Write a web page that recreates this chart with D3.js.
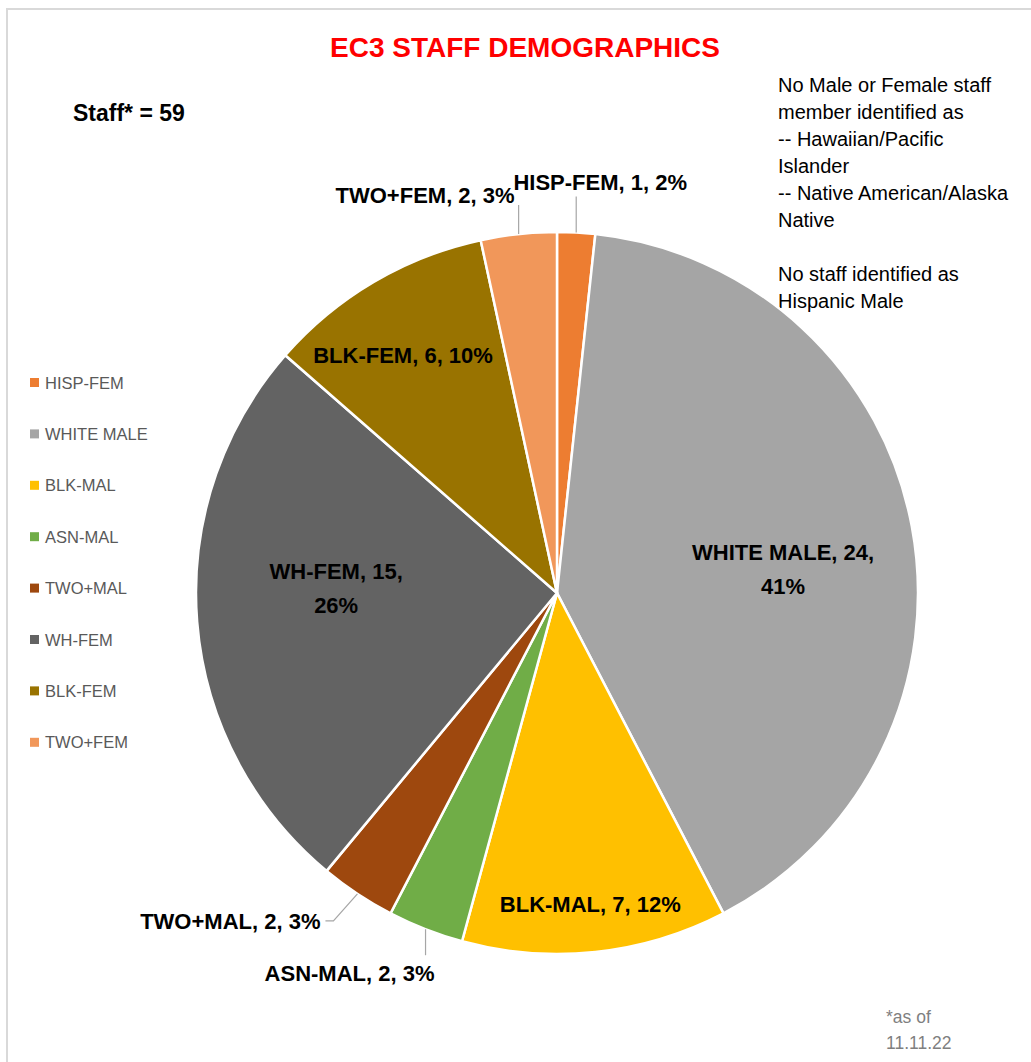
<!DOCTYPE html>
<html>
<head>
<meta charset="utf-8">
<script src="https://cdn.jsdelivr.net/npm/d3@7"></script>
<style>
  body { margin: 0; background: #fff; }
  text { font-family: "Liberation Sans", Arial, sans-serif; }
</style>
</head>
<body>
<svg id="chart"></svg>
<script>
// data
var categories = ['HISP-FEM', 'WHITE MALE', 'BLK-MAL', 'ASN-MAL', 'TWO+MAL', 'WH-FEM', 'BLK-FEM', 'TWO+FEM']
var counts = [1, 24, 7, 2, 2, 15, 6, 2]
var percents = ['2%', '41%', '12%', '3%', '3%', '26%', '10%', '3%']
var colors = ['#ED7D31', '#A5A5A5', '#FFC000', '#70AD47', '#9E480E', '#636363', '#997300', '#F1975A']

var title = 'EC3 STAFF DEMOGRAPHICS'
var staffNote = 'Staff* = 59'
var noteLines = ['No Male or Female staff', 'member identified as', '-- Hawaiian/Pacific', 'Islander',
	'-- Native American/Alaska', 'Native', '', 'No staff identified as', 'Hispanic Male']
var footLines = ['*as of', '11.11.22']

var width = 1031, height = 1062
var cx = 557, cy = 593, radius = 361

// label layout per slice (inside: fraction of radius + angle nudge; outside: leader line)
var labelLayout = [
	{out: true, lead: [[0, -36]], tx: 24, ty: -7, anchor: 'middle'},
	{out: false, rf: 0.63, da: 4.5, lines: 2},
	{out: false, rf: 0.867, da: 0, lines: 1},
	{out: true, lead: [[0, 26]], tx: -76, ty: 26, anchor: 'middle'},
	{out: true, lead: [[-24, 27], [-32, 27]], tx: -5, ty: 8, anchor: 'end'},
	{out: false, rf: 0.612, da: 6, lines: 2},
	{out: false, rf: 0.785, da: -2.4, lines: 1},
	{out: true, lead: [[0, -29]], tx: -4, ty: -2, anchor: 'end'}
]

var svg = d3.select('#chart')
	.attr('width', width)
	.attr('height', height)

svg.append('rect')
	.attr('x', 7).attr('y', 9)
	.attr('width', 1040).attr('height', 1080)
	.attr('fill', '#fff')
	.attr('stroke', '#d9d9d9')
	.attr('stroke-width', 2)

svg.append('text')
	.attr('x', 525).attr('y', 57)
	.attr('text-anchor', 'middle')
	.style('font-size', '28px').style('font-weight', 'bold')
	.attr('fill', '#ff0000')
	.text(title)

svg.append('text')
	.attr('x', 73).attr('y', 121)
	.style('font-size', '23px').style('font-weight', 'bold')
	.attr('fill', '#000')
	.text(staffNote)

svg.append('g').selectAll('text')
	.data(noteLines)
	.enter()
	.append('text')
		.attr('x', 778)
		.attr('y', (d, i) => 92 + i * 27)
		.style('font-size', '20px')
		.attr('fill', '#000')
		.text(d => d)

svg.append('g').selectAll('text')
	.data(footLines)
	.enter()
	.append('text')
		.attr('x', 886)
		.attr('y', (d, i) => 1023 + i * 26)
		.style('font-size', '17.5px')
		.attr('fill', '#7f7f7f')
		.text(d => d)

// pie
var data = categories.map((c, i) => ({name: c, value: counts[i], pct: percents[i], color: colors[i], lay: labelLayout[i]}))

var pie = d3.pie().value(d => d.value).sort(null)
var arcs = pie(data)
var arc = d3.arc().innerRadius(0).outerRadius(radius)

var g = svg.append('g').attr('transform', 'translate(' + cx + ',' + cy + ')')

g.selectAll('path')
	.data(arcs)
	.enter()
	.append('path')
		.attr('d', arc)
		.attr('fill', d => d.data.color)
		.attr('stroke', '#fff')
		.attr('stroke-width', 2.5)

function polar(angle, r) {
	return [Math.sin(angle) * r, -Math.cos(angle) * r]
}

arcs.forEach(d => {
	var lay = d.data.lay
	var mid = (d.startAngle + d.endAngle) / 2
	var label = d.data.name + ', ' + d.data.value + ', ' + d.data.pct
	if (lay.out) {
		var p0 = polar(mid, radius)
		var pts = [p0].concat(lay.lead.map(o => [p0[0] + o[0], p0[1] + o[1]]))
		g.append('path')
			.attr('d', d3.line()(pts))
			.attr('fill', 'none')
			.attr('stroke', '#a6a6a6')
			.attr('stroke-width', 1.2)
		var end = pts[pts.length - 1]
		g.append('text')
			.attr('x', end[0] + lay.tx)
			.attr('y', end[1] + lay.ty)
			.attr('text-anchor', lay.anchor)
			.style('font-size', '22px').style('font-weight', 'bold')
			.attr('fill', '#000')
			.text(label)
	} else {
		var p = polar(mid + lay.da * Math.PI / 180, radius * lay.rf)
		var lines = lay.lines == 2 ? [d.data.name + ', ' + d.data.value + ',', d.data.pct] : [label]
		var t = g.append('text')
			.attr('text-anchor', 'middle')
			.style('font-size', '22px').style('font-weight', 'bold')
			.attr('fill', '#000')
		lines.forEach((l, i) => {
			t.append('tspan')
				.attr('x', p[0])
				.attr('y', p[1] + 8 + (i - (lines.length - 1) / 2) * 34)
				.text(l)
		})
	}
})

// legend
var legend = svg.append('g')
legend.selectAll('rect')
	.data(data)
	.enter()
	.append('rect')
		.attr('x', 30)
		.attr('y', (d, i) => 378 + i * 51.4)
		.attr('width', 9).attr('height', 9)
		.attr('fill', d => d.color)

legend.selectAll('text')
	.data(data)
	.enter()
	.append('text')
		.attr('x', 45)
		.attr('y', (d, i) => 388.5 + i * 51.4)
		.style('font-size', '16.5px')
		.attr('fill', '#595959')
		.text(d => d.name)
</script>
</body>
</html>
